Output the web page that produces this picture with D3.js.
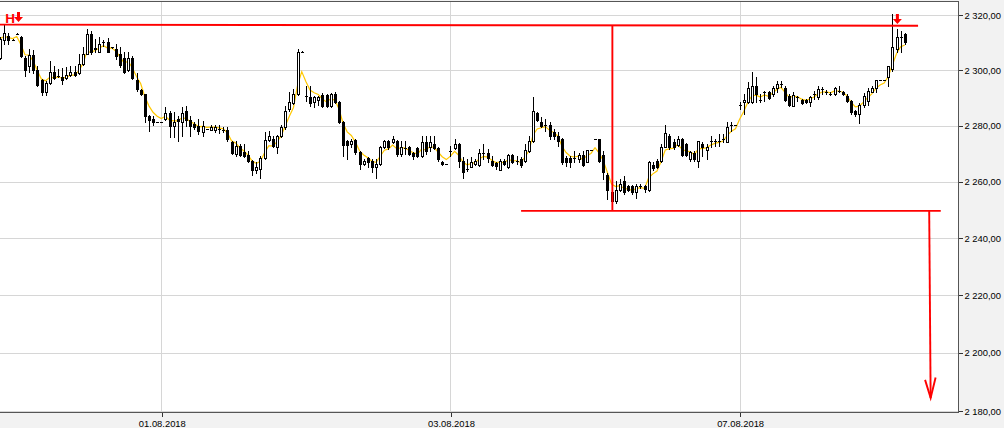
<!DOCTYPE html>
<html><head><meta charset="utf-8">
<script src="https://cdn.jsdelivr.net/npm/d3@7"></script>
<style>body{margin:0;background:#fff}svg{display:block}</style>
</head><body>
<svg id="chart" width="1004" height="428"></svg>
<script>
// ---- data (15-minute candles, index in time order) ----
const dateLabels = ["01.08.2018", "03.08.2018", "07.08.2018"];
const dateTickIndex = [39, 109, 179];
const yTickValues = [2180, 2200, 2220, 2240, 2260, 2280, 2300, 2320];

const open = [2304.3,2311.1,2312.6,2311.1,2313.3,2312.2,2304.3,2301.5,2305.4,2300.0,2296.5,2292.2,2295.4,2299.3,2297.9,2297.5,2297.2,2298.2,2299.3,2299.0,2302.2,2306.1,2313.3,2307.9,2306.8,2310.1,2310.4,2308.3,2307.9,2305.8,2304.3,2300.0,2304.3,2296.5,2292.9,2291.4,2283.6,2282.5,2281.4,2281.4,
2282.5,2284.6,2280.0,2282.5,2281.4,2285.3,2282.1,2280.7,2280.0,2277.8,2278.9,2278.5,2278.5,2278.9,2278.5,2278.5,2274.2,2269.9,2272.8,2270.6,2269.6,2267.4,2264.2,2264.6,2268.5,2275.0,2275.3,2272.4,2276.4,2279.6,2286.1,2288.2,2291.4,2306.8,2290.7,2290.4,2288.6,2289.3,2291.1,2291.1,
2287.1,2291.4,2288.6,2281.4,2274.6,2273.5,2275.0,2270.6,2266.4,2268.5,2267.4,2265.3,2266.4,2272.4,2274.6,2274.2,2274.6,2269.9,2272.1,2272.4,2270.3,2272.1,2269.2,2274.2,2272.4,2273.5,2272.1,2267.1,2266.4,2271.0,
2272.1,2273.5,2267.4,2264.6,2265.3,2266.4,2266.0,2270.3,2270.3,2267.4,2266.7,2264.2,2267.4,2265.3,2269.6,2267.4,2268.1,2267.4,2271.0,2274.6,2284.6,2281.4,2280.3,2280.3,2277.8,2276.4,2275.3,2268.5,2268.5,2268.5,
2268.1,2269.6,2267.1,2271.4,2275.3,2275.3,2269.6,2262.4,2256.3,2253.1,2257.0,2260.3,2258.5,2258.5,2256.3,2258.5,2258.5,2257.0,2266.0,2267.4,2267.4,2272.4,2276.4,2274.2,2273.2,2275.3,2273.5,2268.1,2270.3,2267.4,
2273.5,2271.4,2274.6,2274.6,2274.6,2275.3,2274.2,2280.3,2280.3,2287.5,2288.6,2288.6,2288.6,2294.3,2289.3,2292.2,2292.2,2291.4,2293.6,2295.0,2293.6,2290.7,2287.1,2290.4,2289.3,2289.3,2288.6,2291.4,2290.4,2293.2,
2292.2,2291.4,2291.4,2292.5,2292.2,2290.7,2288.9,2285.3,2284.3,2287.5,2288.9,2292.2,2293.6,2296.5,2296.5,2297.5,2300.4,2307.6,2312.2,2313.3];
const high = [2312.2,2316.5,2313.6,2311.3,2313.4,2312.6,2305.1,2307.6,2307.2,2301.5,2296.8,2296.1,2303.3,2301.5,2300.4,2300.8,2301.1,2301.5,2301.5,2305.8,2308.3,2315.1,2314.4,2311.5,2312.2,2311.1,2311.9,2308.6,2309.4,2308.3,2306.8,2306.8,2305.1,2299.0,2293.2,2291.6,2283.9,2283.6,2281.5,2281.5,
2286.8,2285.3,2285.0,2283.6,2286.8,2287.1,2283.6,2281.4,2282.5,2281.8,2279.0,2280.3,2280.3,2280.3,2279.6,2279.6,2274.6,2274.6,2273.5,2273.5,2271.0,2267.8,2267.1,2269.2,2277.8,2278.2,2276.4,2276.6,2280.3,2287.1,2292.2,2293.2,2307.6,2306.9,2294.3,2294.3,2290.7,2290.7,2291.8,2291.4,
2291.8,2292.2,2288.9,2281.8,2275.0,2275.3,2275.3,2271.0,2268.1,2268.9,2268.1,2268.1,2272.8,2275.0,2275.0,2276.4,2275.0,2274.6,2274.6,2272.8,2270.6,2272.4,2276.4,2276.4,2276.4,2276.4,2272.4,2267.4,2266.5,2272.8,
2275.3,2273.9,2268.9,2268.1,2268.9,2268.1,2271.7,2273.5,2271.7,2269.2,2267.1,2268.1,2268.1,2269.9,2269.9,2269.2,2268.9,2273.5,2276.4,2290.4,2285.0,2283.2,2282.5,2281.4,2278.9,2277.8,2275.7,2269.2,2269.2,2271.0,
2270.3,2271.0,2271.4,2271.5,2275.4,2275.4,2271.0,2263.1,2257.4,2260.3,2261.0,2262.0,2258.8,2258.8,2259.2,2259.2,2258.8,2267.4,2267.1,2268.1,2273.5,2280.3,2277.1,2275.3,2276.4,2275.7,2273.9,2271.0,2271.0,2274.6,
2274.2,2273.5,2276.4,2275.3,2277.1,2277.1,2281.4,2281.4,2280.4,2288.6,2291.4,2295.7,2299.3,2297.5,2291.4,2292.5,2292.5,2294.3,2296.1,2296.1,2294.3,2291.4,2292.2,2290.7,2289.6,2289.6,2290.7,2292.5,2294.3,2293.9,
2292.9,2292.2,2293.9,2294.3,2292.5,2291.4,2289.3,2285.7,2288.2,2291.8,2293.6,2294.3,2296.5,2296.6,2296.6,2301.5,2320.3,2315.1,2314.4,2313.6];
const low = [2304.0,2309.4,2309.4,2311.0,2313.2,2304.7,2297.9,2299.3,2299.0,2294.3,2291.1,2291.1,2295.0,2296.8,2297.5,2295.0,2296.8,2297.9,2297.9,2298.6,2301.8,2305.8,2306.1,2306.5,2306.5,2309.0,2306.5,2308.0,2304.0,2301.1,2299.0,2299.7,2296.8,2292.5,2291.1,2281.4,2278.2,2280.3,2281.3,2281.3,
2282.1,2276.0,2276.0,2274.6,2276.4,2280.0,2276.4,2278.9,2277.1,2276.4,2278.8,2278.5,2277.8,2277.5,2277.8,2274.6,2269.9,2269.2,2269.2,2269.0,2267.1,2262.4,2263.1,2261.3,2268.1,2274.6,2272.4,2270.3,2276.0,2278.9,2285.3,2287.8,2291.1,2306.7,2288.9,2287.1,2286.8,2287.5,2286.8,2286.8,
2286.8,2288.2,2281.0,2269.2,2268.1,2272.4,2269.9,2264.6,2266.0,2265.3,2263.5,2261.3,2266.0,2272.1,2271.7,2273.9,2269.2,2269.2,2269.9,2269.6,2268.1,2268.9,2268.9,2269.9,2271.0,2271.7,2267.4,2266.0,2266.3,2269.2,
2271.7,2265.3,2261.3,2263.8,2265.3,2266.0,2265.6,2268.1,2267.1,2265.6,2264.6,2264.2,2266.0,2264.9,2266.7,2266.4,2265.3,2267.1,2270.6,2274.2,2281.8,2279.6,2278.2,2275.3,2275.3,2272.8,2266.4,2265.6,2265.3,2267.1,
2267.1,2265.6,2267.1,2271.3,2275.2,2267.1,2261.0,2253.8,2252.7,2252.4,2256.7,2255.6,2256.7,2255.6,2254.2,2257.7,2256.3,2256.7,2264.2,2264.9,2267.1,2272.4,2271.7,2271.7,2272.8,2269.2,2269.2,2267.4,2267.4,2265.3,
2269.2,2268.1,2272.4,2272.8,2272.8,2274.2,2274.2,2278.2,2280.2,2286.1,2284.3,2288.2,2288.2,2288.6,2288.6,2288.9,2289.6,2290.7,2292.2,2293.9,2288.9,2287.1,2287.1,2288.9,2287.8,2288.2,2287.1,2289.6,2289.6,2291.4,
2291.4,2291.1,2291.1,2292.2,2291.1,2288.6,2284.3,2283.6,2281.0,2286.8,2287.5,2292.2,2292.2,2296.4,2296.4,2294.3,2299.7,2306.8,2306.8,2309.7];
const close = [2311.5,2313.6,2311.1,2311.1,2313.3,2305.1,2300.0,2305.4,2300.0,2294.7,2292.2,2295.4,2299.3,2297.2,2297.9,2296.5,2298.2,2299.3,2298.2,2302.2,2306.1,2313.3,2306.5,2308.0,2309.4,2310.2,2306.8,2308.3,2305.1,2301.8,2299.3,2304.3,2297.2,2293.2,2291.4,2283.6,2282.1,2281.4,2281.4,2281.4,
2284.6,2280.0,2281.4,2281.8,2284.6,2282.1,2280.0,2279.6,2278.2,2280.0,2278.9,2279.6,2279.6,2278.9,2278.5,2275.3,2270.3,2272.8,2269.6,2269.2,2267.4,2264.2,2265.3,2268.5,2275.0,2276.4,2272.8,2276.4,2279.6,2285.3,2288.6,2291.4,2306.8,2306.8,2290.7,2288.2,2290.4,2290.4,2287.1,2287.1,
2291.4,2288.6,2281.4,2273.2,2273.2,2274.6,2270.6,2266.4,2267.4,2267.1,2265.3,2266.4,2272.4,2274.6,2272.4,2275.3,2269.9,2272.4,2272.1,2269.9,2269.2,2269.2,2274.2,2271.0,2274.2,2272.1,2268.1,2266.4,2266.4,2271.0,
2273.5,2267.4,2263.5,2264.6,2267.1,2267.4,2270.3,2270.3,2268.5,2266.0,2265.6,2267.4,2266.4,2269.6,2267.1,2267.4,2266.0,2271.4,2274.6,2285.3,2282.1,2280.0,2280.3,2276.4,2276.4,2274.6,2267.1,2267.1,2267.1,2268.5,
2269.6,2266.0,2271.4,2271.4,2275.3,2267.4,2263.5,2257.0,2253.1,2257.0,2259.2,2256.3,2257.0,2256.3,2258.5,2258.5,2257.4,2267.1,2264.9,2265.3,2272.4,2277.5,2272.4,2272.4,2275.3,2269.6,2269.6,2270.6,2268.1,2274.6,
2272.4,2272.4,2274.6,2274.6,2274.6,2275.3,2279.6,2280.3,2280.3,2287.5,2289.3,2293.6,2294.3,2291.4,2289.3,2292.2,2290.0,2293.6,2295.0,2295.0,2289.3,2287.5,2291.1,2290.4,2288.2,2288.6,2290.4,2291.4,2293.2,2293.2,
2292.2,2291.4,2293.6,2292.5,2291.4,2288.9,2285.0,2284.3,2287.5,2290.7,2292.5,2293.6,2296.5,2296.5,2296.5,2301.5,2308.3,2312.2,2312.2,2310.1];

// annotation (pattern) levels, in price / candle-index units
const headLevel = [{i: -0.05, v: 2316.6}, {i: 222.2, v: 2316.2}];
const necklineLevel = [{i: 126.1, v: 2249.7}, {i: 227.7, v: 2249.7}];
const heightLine = [{i: 148.2, v: 2316.4}, {i: 148.2, v: 2249.7}];
const targetLine = [{i: 224.9, v: 2249.7}, {i: 225.25, v: 2184.5}];
const targetHead = [{i: 223.9, v: 2190.7}, {i: 225.25, v: 2184.5}, {i: 226.45, v: 2191.5}];
const markerH = {label: "H", i: 1.2, arrowI: 4.43};
const markerTop = {arrowI: 217.2};

// ---- layout ----
const svg = d3.select("#chart");
const W = 1004, H = 428;
const plot = {left: 0, right: 958, top: 1.5, bottom: 412};

const x = d3.scaleLinear().domain([39, 179]).range([161.3, 739.6]);
const y = d3.scaleLog().domain([2180, 2320]).range([411, 15.3]);

const fmt = d3.formatLocale({decimal: ",", thousands: " ", grouping: [3], currency: ["", ""]}).format(",.2f");

svg.append("rect").attr("width", W).attr("height", H).attr("fill", "#f2f2f2");
svg.append("rect").attr("x", plot.left).attr("y", plot.top).attr("width", plot.right - plot.left)
  .attr("height", plot.bottom - plot.top).attr("fill", "#ffffff");

const grid = svg.append("g").attr("shape-rendering", "crispEdges");
yTickValues.forEach(v => {
  const yy = Math.round(y(v)) + 0.5;
  grid.append("line").attr("x1", plot.left).attr("x2", plot.right).attr("y1", yy).attr("y2", yy)
    .attr("stroke", "#d6d6d6");
});
dateTickIndex.forEach(i => {
  const xx = Math.round(x(i)) + 0.5;
  grid.append("line").attr("x1", xx).attr("x2", xx).attr("y1", plot.top).attr("y2", plot.bottom)
    .attr("stroke", "#d6d6d6");
});

// borders
const border = svg.append("g").attr("shape-rendering", "crispEdges").attr("stroke", "#555");
border.append("line").attr("x1", 0).attr("x2", plot.right + 0.5).attr("y1", 1.5).attr("y2", 1.5);
border.append("line").attr("x1", plot.right + 0.5).attr("x2", plot.right + 0.5).attr("y1", 1.5).attr("y2", plot.bottom + 0.5);
border.append("line").attr("x1", 0).attr("x2", plot.right + 0.5).attr("y1", plot.bottom + 0.5).attr("y2", plot.bottom + 0.5);

// right axis
const yAxis = d3.axisRight(y).tickValues(yTickValues).tickFormat(fmt).tickSize(4).tickPadding(2);
const ya = svg.append("g").attr("transform", `translate(${plot.right + 0.5},0)`).call(yAxis);
ya.select(".domain").remove();
ya.selectAll(".tick line").attr("stroke", "#333").attr("shape-rendering", "crispEdges");
ya.selectAll(".tick text").attr("font-family", "'Liberation Sans', Arial, sans-serif")
  .attr("font-size", "9.4px").attr("fill", "#000");

// bottom axis
const xAxis = d3.axisBottom(x).tickValues(dateTickIndex)
  .tickFormat((d, k) => dateLabels[k]).tickSize(4).tickPadding(4);
const xa = svg.append("g").attr("transform", `translate(0.5,${plot.bottom + 0.5})`).call(xAxis);
xa.select(".domain").remove();
xa.selectAll(".tick line").attr("stroke", "#333").attr("shape-rendering", "crispEdges");
xa.selectAll(".tick text").attr("font-family", "'Liberation Sans', Arial, sans-serif")
  .attr("font-size", "9.4px").attr("fill", "#000");

// moving average (EMA of closes)
const ma = [];
close.forEach((c, i) => ma.push(i === 0 ? c : ma[i - 1] + 0.4 * (c - ma[i - 1])));
svg.append("path").datum(ma)
  .attr("d", d3.line().x((d, i) => x(i)).y(d => y(d)))
  .attr("fill", "none").attr("stroke", "#ffc800").attr("stroke-width", 1.2);

// candles
const cg = svg.append("g").attr("shape-rendering", "crispEdges");
open.forEach((o, i) => {
  const c = close[i];
  const cx = Math.round(x(i));
  cg.append("line").attr("x1", cx + 0.5).attr("x2", cx + 0.5)
    .attr("y1", Math.round(y(high[i]))).attr("y2", Math.round(y(low[i])) + 1)
    .attr("stroke", "#000");
  const yTop = Math.round(y(Math.max(o, c)));
  const yBot = Math.round(y(Math.min(o, c)));
  if (yBot - yTop < 1) {
    cg.append("line").attr("x1", cx - 1).attr("x2", cx + 2)
      .attr("y1", yTop + 0.5).attr("y2", yTop + 0.5).attr("stroke", "#000");
  } else {
    cg.append("rect").attr("x", cx - 0.5).attr("y", yTop + 0.5)
      .attr("width", 2).attr("height", yBot - yTop)
      .attr("fill", c >= o ? "#fff" : "#000").attr("stroke", "#000");
  }
});

// red annotations
const red = "#ff0000";
const ln = d3.line().x(d => x(d.i)).y(d => y(d.v));
const ann = svg.append("g").attr("fill", "none").attr("stroke", red).attr("stroke-width", 1.9);
[headLevel, necklineLevel, heightLine, targetLine, targetHead].forEach(p =>
  ann.append("path").attr("d", ln(p)));

function downArrow(cx, y0) {
  return `M${cx - 1.5},${y0} L${cx + 1.5},${y0} L${cx + 1.5},${y0 + 5} L${cx + 4.5},${y0 + 5} ` +
         `L${cx},${y0 + 10} L${cx - 4.5},${y0 + 5} L${cx - 1.5},${y0 + 5} Z`;
}
svg.append("text").attr("x", x(markerH.i)).attr("y", 23).text(markerH.label)
  .attr("font-family", "'Liberation Sans', Arial, sans-serif").attr("font-weight", "bold")
  .attr("font-size", "13.5px").attr("fill", red);
svg.append("path").attr("d", downArrow(x(markerH.arrowI), 12)).attr("fill", red);
svg.append("path").attr("d", downArrow(x(markerTop.arrowI), 14)).attr("fill", red);
</script>
</body></html>
